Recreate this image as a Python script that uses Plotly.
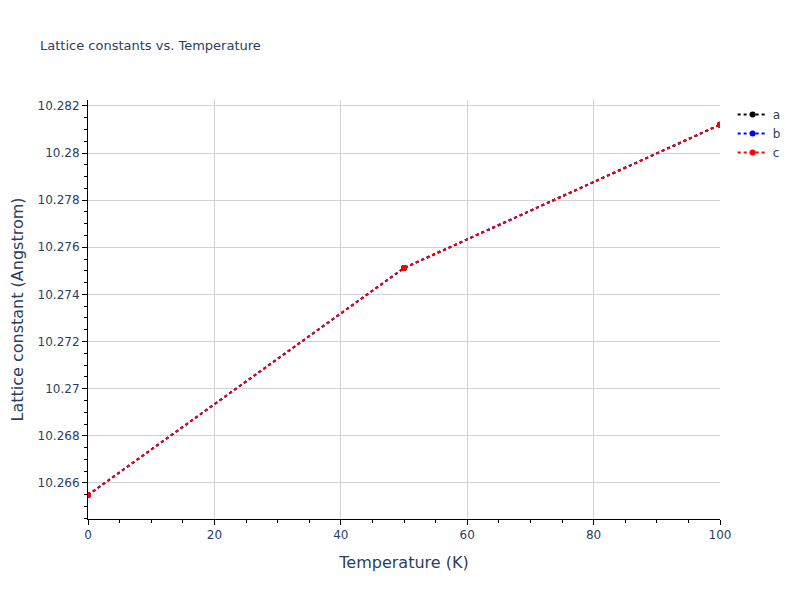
import plotly.graph_objects as go

temperature = [0, 50, 100]
lat_a = [10.26549, 10.27512, 10.28120]
lat_b = [10.26549, 10.27512, 10.28120]
lat_c = [10.26549, 10.27512, 10.28120]

fig = go.Figure()
for name, vals, color in [("a", lat_a, "black"), ("b", lat_b, "blue"), ("c", lat_c, "red")]:
    fig.add_trace(go.Scatter(x=temperature, y=vals, mode="lines+markers", name=name,
                             line=dict(color=color, dash="dot", width=2),
                             marker=dict(color=color, size=6)))

axis_style = dict(showline=True, linecolor="black", linewidth=1, ticks="outside",
                  tickcolor="black", ticklen=5, showgrid=True, gridcolor="lightgray",
                  zeroline=False, mirror=False, automargin=False)

fig.update_xaxes(title_text="Temperature (K)", range=[0, 100], dtick=20,
                 minor=dict(dtick=5, ticks="outside", ticklen=3, tickcolor="black", showgrid=False),
                 title_font=dict(size=16), **axis_style)
fig.update_yaxes(title_text="Lattice constant (Angstrom)", range=[10.26447, 10.28225], dtick=0.002,
                 minor=dict(dtick=0.0005, ticks="outside", ticklen=3, tickcolor="black", showgrid=False),
                 title_font=dict(size=16), title_standoff=18, **axis_style)

fig.update_layout(
    width=800, height=600,
    font=dict(family="DejaVu Sans, Verdana, sans-serif"),
    title=dict(text="Lattice constants vs. Temperature", x=0.04, y=0.945,
               font=dict(size=13)),
    plot_bgcolor="white", paper_bgcolor="white",
    margin=dict(l=80, r=88, t=92, b=89),
    legend=dict(x=1.02, y=1, font=dict(size=12)),
)

fig.write_html("out.html")
